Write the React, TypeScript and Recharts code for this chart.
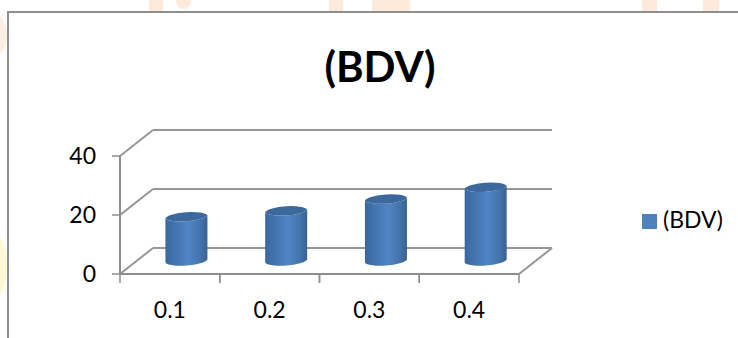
import React from "react";
import { BarChart, Bar, XAxis, YAxis, CartesianGrid, Legend } from "recharts";

const categories = ["0.1", "0.2", "0.3", "0.4"];
const bdvValues = [15, 17, 21, 25];
const valueTicks = [0, 20, 40];
const seriesName = "(BDV)";
const chartTitle = "(BDV)";

const rows = categories.map((category, i) => ({ category, bdv: bdvValues[i] }));

const FONT = "Lato, 'Open Sans', sans-serif";
const AXIS_GREY = "#8e8e8e";
const GRID_GREY = "#969696";
const BLUE = "#4f81bd";

// Depth of the pseudo-3D floor, and the cylinder's place at its middle.
const DEPTH_X = 33;
const DEPTH_Y = 26;
const BAND = 99.75;
const LEGEND_HEIGHT = 30;

// Pale decorative shapes peeking out around the frame.
const decorations: React.CSSProperties[] = [
  { left: 149, top: 0, width: 14, height: 11, background: "#fdeadb" },
  { left: 176, top: -6, width: 15, height: 15, borderRadius: "50%", background: "#fdeadb" },
  { left: 329, top: 0, width: 14, height: 11, background: "#fdeadb" },
  { left: 372, top: -14, width: 38, height: 25, borderRadius: "0 60% 0 0", background: "#fdeadb" },
  { left: 642, top: 0, width: 15, height: 11, background: "#fdeadb" },
  { left: 703, top: 0, width: 16, height: 11, background: "#fdeadb" },
  { left: -14, top: 15, width: 21, height: 40, borderRadius: "50%", background: "#fdeee4" },
  { left: -22, top: 232, width: 29, height: 68, borderRadius: "50%", background: "#fef8d6" },
];

const GridLine = (p: any) => {
  const isFloor = Math.abs(p.y1 - (p.y + p.height)) < 0.5;
  return (
    <g stroke={GRID_GREY} strokeWidth={2} fill="none">
      <line x1={p.x1} y1={p.y1} x2={p.x1 + DEPTH_X} y2={p.y1 - DEPTH_Y} />
      <line x1={p.x1 + DEPTH_X} y1={p.y1 - DEPTH_Y} x2={p.x2 + DEPTH_X} y2={p.y1 - DEPTH_Y} />
      {isFloor && <line x1={p.x2} y1={p.y1} x2={p.x2 + DEPTH_X} y2={p.y1 - DEPTH_Y} />}
    </g>
  );
};

// Category label with tick marks on the band edges rather than the centre.
const CategoryTick = (p: any) => (
  <g>
    <line x1={p.x - BAND / 2} y1={274} x2={p.x - BAND / 2} y2={283} stroke={AXIS_GREY} strokeWidth={1.5} />
    <line x1={p.x + BAND / 2} y1={274} x2={p.x + BAND / 2} y2={283} stroke={AXIS_GREY} strokeWidth={1.5} />
    <text x={p.x} y={318} textAnchor="middle" fontFamily={FONT} fontSize={23} fill="#000">
      {p.payload.value}
    </text>
  </g>
);

const Cylinder = (p: any) => {
  const left = p.x + DEPTH_X / 2;
  const right = left + p.width;
  const top = p.y - DEPTH_Y / 2;
  const bottom = top + p.height;
  const rx = p.width / 2 + 0.3;
  const ry = 5.4;
  const tilt = 1.4;
  const arc = `A${rx} ${ry} -4 0 1`;
  const arcBack = `A${rx} ${ry} -4 0 0`;
  return (
    <g>
      <path
        d={`M${left} ${top + tilt} L${left} ${bottom + tilt} ${arcBack} ${right} ${bottom - tilt} L${right} ${top - tilt} ${arc} ${left} ${top + tilt} Z`}
        fill="url(#cylinderSide)"
      />
      <path
        d={`M${left} ${top + tilt} ${arc} ${right} ${top - tilt} ${arc} ${left} ${top + tilt} Z`}
        fill="#3c689b"
      />
    </g>
  );
};

export default function App() {
  return (
    <div style={{ position: "absolute", left: 0, top: 0, width: 738, height: 338, overflow: "hidden", background: "#fff" }}>
      {decorations.map((style, i) => (
        <div key={i} style={{ position: "absolute", ...style }} />
      ))}
      <div
        style={{
          position: "absolute",
          left: 7,
          top: 11,
          width: 729,
          height: 340,
          borderLeft: `2px solid ${AXIS_GREY}`,
          borderTop: `2px solid ${AXIS_GREY}`,
          background: "#fff",
        }}
      />
      <div
        style={{
          position: "absolute",
          left: 280,
          width: 200,
          top: 40,
          textAlign: "center",
          fontFamily: FONT,
          fontWeight: 700,
          fontSize: 42,
          lineHeight: "52px",
          color: "#000",
        }}
      >
        {chartTitle}
      </div>
      <div style={{ position: "absolute", left: 0, top: 0 }}>
        <BarChart
          width={738}
          height={338}
          data={rows}
          barCategoryGap="29%"
          margin={{ top: 156, right: 219, bottom: 0, left: 0 }}
        >
          <defs>
            <linearGradient id="cylinderSide" x1="0" y1="0" x2="1" y2="0">
              <stop offset="0" stopColor="#39689f" />
              <stop offset="0.55" stopColor="#5084c4" />
              <stop offset="0.85" stopColor="#4272aa" />
              <stop offset="1" stopColor="#38618f" />
            </linearGradient>
          </defs>
          <CartesianGrid horizontal={GridLine} vertical={false} />
          <XAxis
            dataKey="category"
            height={64 - LEGEND_HEIGHT}
            tick={CategoryTick}
            tickLine={false}
            axisLine={{ stroke: AXIS_GREY, strokeWidth: 2 }}
            interval={0}
          />
          <YAxis
            width={120}
            domain={[0, 40]}
            ticks={valueTicks}
            tickSize={8}
            tickMargin={16}
            tickLine={{ stroke: AXIS_GREY, strokeWidth: 1.5 }}
            axisLine={{ stroke: AXIS_GREY, strokeWidth: 2 }}
            tick={{ fontFamily: FONT, fontSize: 23, fill: "#000" }}
          />
          <Legend
            layout="vertical"
            iconType="square"
            iconSize={15}
            wrapperStyle={{ left: 642, top: 202, width: 96, height: LEGEND_HEIGHT, bottom: "auto", right: "auto" }}
            formatter={(value: string) => (
              <span style={{ color: "#000", fontFamily: FONT, fontSize: 23, marginLeft: 2, position: "relative", top: 3 }}>{value}</span>
            )}
          />
          <Bar dataKey="bdv" name={seriesName} fill={BLUE} shape={Cylinder} isAnimationActive={false} />
        </BarChart>
      </div>
    </div>
  );
}
